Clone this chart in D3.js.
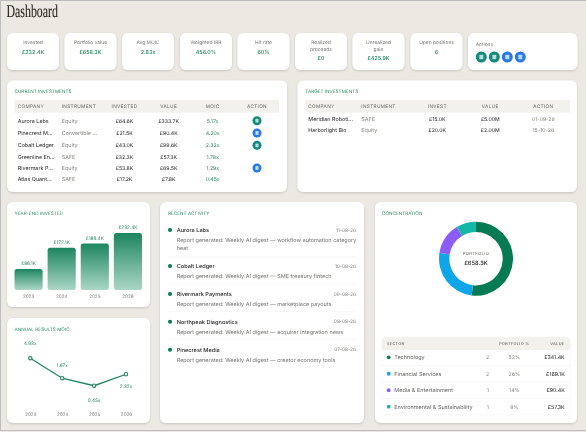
<!DOCTYPE html>
<html>
<head>
<meta charset="utf-8">
<script src="https://cdnjs.cloudflare.com/ajax/libs/d3/7.8.5/d3.min.js"></script>
<style>
html, body { margin: 0; padding: 0; background: #ece9e2; overflow: hidden; }
svg { display: block; filter: blur(0.2px); }
text { font-family: Inter, "Noto Sans", sans-serif; text-rendering: geometricPrecision; }
</style>
</head>
<body>
<script>
var kpiLabels = [["Invested"], ["Portfolio value"], ["Avg MOIC"], ["Weighted IRR"], ["Hit rate"], ["Realized", "proceeds"], ["Unrealized", "gain"], ["Open positions"]]
var kpiValues = ["£232.4K", "£658.3K", "2.83x", "456.0%", "60%", "£0", "£425.9K", "6"]
var actionColors = ["teal", "teal", "blue", "blue"]

var currentColumns = ["COMPANY", "INSTRUMENT", "INVESTED", "VALUE", "MOIC", "ACTION"]
var currentCompany = ["Aurora Labs", "Pinecrest M...", "Cobalt Ledger", "Greenline En...", "Rivermark P...", "Atlas Quant..."]
var currentInstrument = ["Equity", "Convertible ...", "Equity", "SAFE", "Equity", "SAFE"]
var currentInvested = ["£64.6K", "£21.5K", "£43.0K", "£32.3K", "£53.8K", "£17.2K"]
var currentValue = ["£333.7K", "£90.4K", "£99.6K", "£57.3K", "£69.5K", "£7.8K"]
var currentMoic = ["5.17x", "4.20x", "2.32x", "1.78x", "1.29x", "0.45x"]
var currentAction = ["teal", "blue", "teal", null, "blue", null]

var targetColumns = ["COMPANY", "INSTRUMENT", "INVEST", "VALUE", "ACTION"]
var targetCompany = ["Meridian Roboti...", "Harborlight Bio"]
var targetInstrument = ["SAFE", "Equity"]
var targetInvest = ["£15.0K", "£20.0K"]
var targetValue = ["£5.00M", "£2.00M"]
var targetAction = ["01-09-26", "15-10-26"]

var years = ["2023", "2024", "2025", "2026"]
var yearEndInvested = [86.1, 172.1, 189.4, 232.4]
var annualMoic = [4.93, 1.67, 0.45, 2.32]

var activityCompany = ["Aurora Labs", "Cobalt Ledger", "Rivermark Payments", "Northpeak Diagnostics", "Pinecrest Media"]
var activityDate = ["11-08-26", "10-08-26", "09-08-26", "08-08-26", "07-08-26"]
var activityText = [
    ["Report generated: Weekly AI digest — workflow automation category", "heat"],
    ["Report generated: Weekly AI digest — SME treasury fintech"],
    ["Report generated: Weekly AI digest — marketplace payouts"],
    ["Report generated: Weekly AI digest — acquirer integration news"],
    ["Report generated: Weekly AI digest — creator economy tools"]
]

var sectors = ["Technology", "Financial Services", "Media & Entertainment", "Environmental & Sustainability"]
var sectorCount = [2, 2, 1, 1]
var sectorPct = ["52%", "26%", "14%", "9%"]
var sectorValue = [341.4, 169.1, 90.4, 57.3]
var sectorColors = ["#067a52", "#0ea5e9", "#8b5cf6", "#14b8a6"]

var width = 586, height = 432
var green = "#24875f", dark = "#262626", grey = "#85857f", headText = "#66655f", headFill = "#f3f1eb"
var iconFill = {teal: "#12897a", blue: "#2b78e4"}

var svg = d3.select("body").append("svg")
    .attr("width", width)
    .attr("height", height)

var defs = svg.append("defs")
var shadow = defs.append("filter").attr("id", "shadow")
    .attr("x", "-10%").attr("y", "-10%").attr("width", "120%").attr("height", "125%")
shadow.append("feDropShadow")
    .attr("dx", 0).attr("dy", 1).attr("stdDeviation", 1)
    .attr("flood-color", "#000").attr("flood-opacity", 0.16)
var barGrad = defs.append("linearGradient").attr("id", "barGrad")
    .attr("x1", 0).attr("x2", 0).attr("y1", 0).attr("y2", 1)
barGrad.append("stop").attr("offset", "0%").attr("stop-color", "#1c8560")
barGrad.append("stop").attr("offset", "100%").attr("stop-color", "#abd7c6")

// window edge of the screenshot
svg.append("path").attr("d", "M0.5,431V0.5H586").attr("fill", "none").attr("stroke", "#bdbdbb")
svg.append("line").attr("x1", 0).attr("x2", 586).attr("y1", 430.5).attr("y2", 430.5).attr("stroke", "#bdbdbb")

function card(x0, y0, x1, y1, r) {
    return svg.append("rect")
        .attr("x", x0).attr("y", y0)
        .attr("width", x1 - x0).attr("height", y1 - y0)
        .attr("rx", r || 6)
        .attr("fill", "#fff")
        .attr("filter", "url(#shadow)")
}

function label(x, y, str, size, fill, anchor, weight) {
    return svg.append("text")
        .attr("x", x).attr("y", y)
        .attr("dy", "0.35em")
        .attr("font-size", size)
        .attr("fill", fill)
        .attr("text-anchor", anchor || "start")
        .attr("font-weight", weight || 400)
        .text(str)
}

function cardTitle(x, y, str) {
    label(x, y, str, 4.6, green, "start", 400).attr("letter-spacing", 0.05)
}

function actionIcon(x, y, r, kind) {
    svg.append("circle").attr("cx", x).attr("cy", y).attr("r", r).attr("fill", iconFill[kind])
    svg.append("rect")
        .attr("x", x - r * 0.36).attr("y", y - r * 0.42)
        .attr("width", r * 0.72).attr("height", r * 0.84)
        .attr("rx", 0.6)
        .attr("fill", "#b9dcd8")
}

// title
svg.append("text")
    .attr("x", 6.5).attr("y", 17.3)
    .attr("font-size", 18)
    .attr("fill", "#2a2824")
    .attr("stroke", "#2a2824")
    .attr("stroke-width", 0.15)
    .attr("textLength", 51.5)
    .attr("lengthAdjust", "spacingAndGlyphs")
    .style("font-family", "'Liberation Serif', serif")
    .text("Dashboard")

// kpi cards
var kpiX = d3.scaleOrdinal().domain(d3.range(8)).range([7, 64.5, 122, 180, 237.5, 295, 352.5, 410.5])
kpiLabels.forEach(function (lines, i) {
    var x = kpiX(i)
    card(x, 33, x + 52, 70)
    lines.forEach(function (line, j) {
        label(x + 26, 42.5 + j * 6.8, line, 4.9, "#75746f", "middle")
    })
    label(x + 26, lines.length > 1 ? 58.5 : 51.7, kpiValues[i], 5.4, green, "middle", 500)
})
card(468, 33, 577.5, 70)
label(475.7, 44, "Actions", 4.9, "#75746f")
actionColors.forEach(function (kind, i) {
    actionIcon(481.3 + i * 13, 57, 5.5, kind)
})

// current investments table
card(7, 80.5, 287, 192)
cardTitle(14.5, 91.5, "CURRENT INVESTMENTS")
svg.append("rect").attr("x", 14.7).attr("y", 100).attr("width", 264.3).attr("height", 12.7).attr("fill", headFill)
var currentX = [17.7, 61.7, 124.5, 168.7, 212.7, 257]
currentColumns.forEach(function (col, i) {
    label(currentX[i], 106.3, col, 4.7, headText, i < 2 ? "start" : "middle", 400).attr("letter-spacing", 0.35)
})
var currentY = [120.7, 133, 145.3, 156.7, 168, 179.3]
currentCompany.forEach(function (name, i) {
    var y = currentY[i]
    label(currentX[0], y, name, 5.4, dark, "start", 400)
    label(currentX[1], y, currentInstrument[i], 5.4, grey)
    label(currentX[2], y, currentInvested[i], 5.2, dark, "middle", 400)
    label(currentX[3], y, currentValue[i], 5.2, dark, "middle", 400)
    label(currentX[4], y, currentMoic[i], 5.2, green, "middle", 400)
    if (currentAction[i]) actionIcon(currentX[5], y, 4.5, currentAction[i])
})

// target investments table
card(297.5, 80.5, 577, 192)
cardTitle(305.3, 91.5, "TARGET INVESTMENTS")
svg.append("rect").attr("x", 305.3).attr("y", 100).attr("width", 264.7).attr("height", 12.7).attr("fill", headFill)
var targetX = [308.3, 361.3, 437.3, 490.3, 543.3]
targetColumns.forEach(function (col, i) {
    label(targetX[i], 106.3, col, 4.7, headText, i < 2 ? "start" : "middle", 400).attr("letter-spacing", 0.35)
})
var targetY = [119.3, 130]
targetCompany.forEach(function (name, i) {
    var y = targetY[i]
    label(targetX[0], y, name, 5.4, dark, "start", 400)
    label(targetX[1], y, targetInstrument[i], 5.4, grey)
    label(targetX[2], y, targetInvest[i], 5.2, dark, "middle", 400)
    label(targetX[3], y, targetValue[i], 5.2, dark, "middle", 400)
    label(targetX[4], y, targetAction[i], 5.2, grey, "middle")
})

function yearAxis(scale, y) {
    var g = svg.append("g")
        .attr("transform", "translate(0," + y + ")")
        .call(d3.axisBottom(scale).tickSize(0).tickPadding(0))
    g.select(".domain").remove()
    g.selectAll("text")
        .attr("font-size", 4.6)
        .attr("fill", "#7d7c77")
        .style("font-family", "Inter")
}

// year-end invested bars
card(7, 202, 150, 307)
cardTitle(14.5, 213.5, "YEAR-END INVESTED")
var barX = d3.scaleBand().domain(years).range([14.5, 142]).paddingInner(0.15)
var barY = d3.scaleLinear().domain([0, 232.4]).range([290, 233])
svg.append("g").selectAll("rect")
    .data(yearEndInvested)
    .enter().append("rect")
    .attr("x", function (d, i) { return barX(years[i]) })
    .attr("y", function (d) { return barY(d) })
    .attr("width", barX.bandwidth())
    .attr("height", function (d) { return barY(0) - barY(d) })
    .attr("rx", 2.5)
    .attr("fill", "url(#barGrad)")
svg.append("g").selectAll("text")
    .data(yearEndInvested)
    .enter().append("text")
    .attr("x", function (d, i) { return barX(years[i]) + barX.bandwidth() / 2 })
    .attr("y", function (d) { return barY(d) - 5.3 })
    .attr("dy", "0.35em")
    .attr("text-anchor", "middle")
    .attr("font-size", 4.7)
    .attr("fill", green)
    .text(function (d) { return "£" + d3.format(".1f")(d) + "K" })
yearAxis(barX, 294.5)

// annual results moic line
card(7, 318, 150, 423)
cardTitle(14.5, 329, "ANNUAL RESULTS MOIC")
var lineX = d3.scalePoint().domain(years).range([30.3, 126])
var lineY = d3.scaleLinear().domain([0.45, 4.93]).range([385.7, 358.3])
var line = d3.line()
    .x(function (d, i) { return lineX(years[i]) })
    .y(function (d) { return lineY(d) })
svg.append("path")
    .datum(annualMoic)
    .attr("fill", "none")
    .attr("stroke", "#1f8560")
    .attr("stroke-width", 1.3)
    .attr("d", line)
svg.append("g").selectAll("circle")
    .data(annualMoic)
    .enter().append("circle")
    .attr("cx", function (d, i) { return lineX(years[i]) })
    .attr("cy", function (d) { return lineY(d) })
    .attr("r", 1.7)
    .attr("fill", "#fff")
    .attr("stroke", "#1f8560")
    .attr("stroke-width", 1.1)
var moicOffset = [-14.7, -13.2, 14.3, 12]
svg.append("g").selectAll("text")
    .data(annualMoic)
    .enter().append("text")
    .attr("x", function (d, i) { return lineX(years[i]) })
    .attr("y", function (d, i) { return lineY(d) + moicOffset[i] })
    .attr("dy", "0.35em")
    .attr("text-anchor", "middle")
    .attr("font-size", 4.7)
    .attr("fill", green)
    .text(function (d) { return d3.format(".2f")(d) + "x" })
yearAxis(lineX, 412.3)

// recent activity
card(160, 202, 364, 423)
cardTitle(168, 213.5, "RECENT ACTIVITY")
var activityY = [230, 266, 294, 321.7, 349.7]
var dividerY = [256.7, 284, 311.7, 339.5]
dividerY.forEach(function (y) {
    svg.append("line").attr("x1", 168).attr("x2", 356).attr("y1", y).attr("y2", y).attr("stroke", "#f5f4f1").attr("stroke-width", 0.6)
})
activityCompany.forEach(function (name, i) {
    var y = activityY[i]
    svg.append("circle").attr("cx", 170).attr("cy", y).attr("r", 2).attr("fill", "#067a52")
    label(176.7, y, name, 5.6, dark, "start", 500)
    label(356, y, activityDate[i], 4.8, grey, "end")
    activityText[i].forEach(function (line, j) {
        label(176.7, y + 10 + j * 8, line, 5.5, "#73726e")
    })
})

// concentration donut
card(375, 202, 577, 423)
cardTitle(382, 213.5, "CONCENTRATION")
var pie = d3.pie().sort(null)
var arc = d3.arc().innerRadius(26.7).outerRadius(37)
var donut = svg.append("g").attr("transform", "translate(476,258.7)")
donut.selectAll("path")
    .data(pie(sectorValue))
    .enter().append("path")
    .attr("d", arc)
    .attr("fill", function (d, i) { return sectorColors[i] })
label(476, 254, "PORTFOLIO", 4.2, headText, "middle", 400).attr("letter-spacing", 0.3)
label(476, 262.7, "£658.3K", 5.8, dark, "middle", 500)

// sector table
svg.append("rect")
    .attr("x", 382).attr("y", 337.3)
    .attr("width", 188).attr("height", 77.4)
    .attr("rx", 4)
    .attr("fill", "none")
    .attr("stroke", "#f3f2ee")
    .attr("stroke-width", 0.6)
svg.append("path")
    .attr("d", "M382,350V341.3A4,4 0 0 1 386,337.3H566A4,4 0 0 1 570,341.3V350Z")
    .attr("fill", headFill)
label(387, 343.5, "SECTOR", 3.9, headText, "start", 500).attr("letter-spacing", 0.3)
label(514.3, 343.5, "PORTFOLIO %", 3.9, headText, "middle", 500).attr("letter-spacing", 0.3)
label(564.5, 343.5, "VALUE", 3.9, headText, "end", 500).attr("letter-spacing", 0.3)
var sectorY = d3.scalePoint().domain(d3.range(4)).range([357.3, 406.7])
sectors.forEach(function (name, i) {
    var y = sectorY(i)
    if (i > 0) svg.append("line").attr("x1", 382).attr("x2", 570).attr("y1", y - 8.2).attr("y2", y - 8.2).attr("stroke", "#f5f4f1").attr("stroke-width", 0.6)
    svg.append("circle").attr("cx", 388.7).attr("cy", y).attr("r", 1.9).attr("fill", sectorColors[i])
    label(394.3, y, name, 5.5, "#5f5e5a")
    label(487.7, y, sectorCount[i], 5.2, grey, "middle")
    label(514.3, y, sectorPct[i], 5.2, grey, "middle")
    label(564.7, y, "£" + d3.format(".1f")(sectorValue[i]) + "K", 5.3, dark, "end", 400)
})
</script>
</body>
</html>
